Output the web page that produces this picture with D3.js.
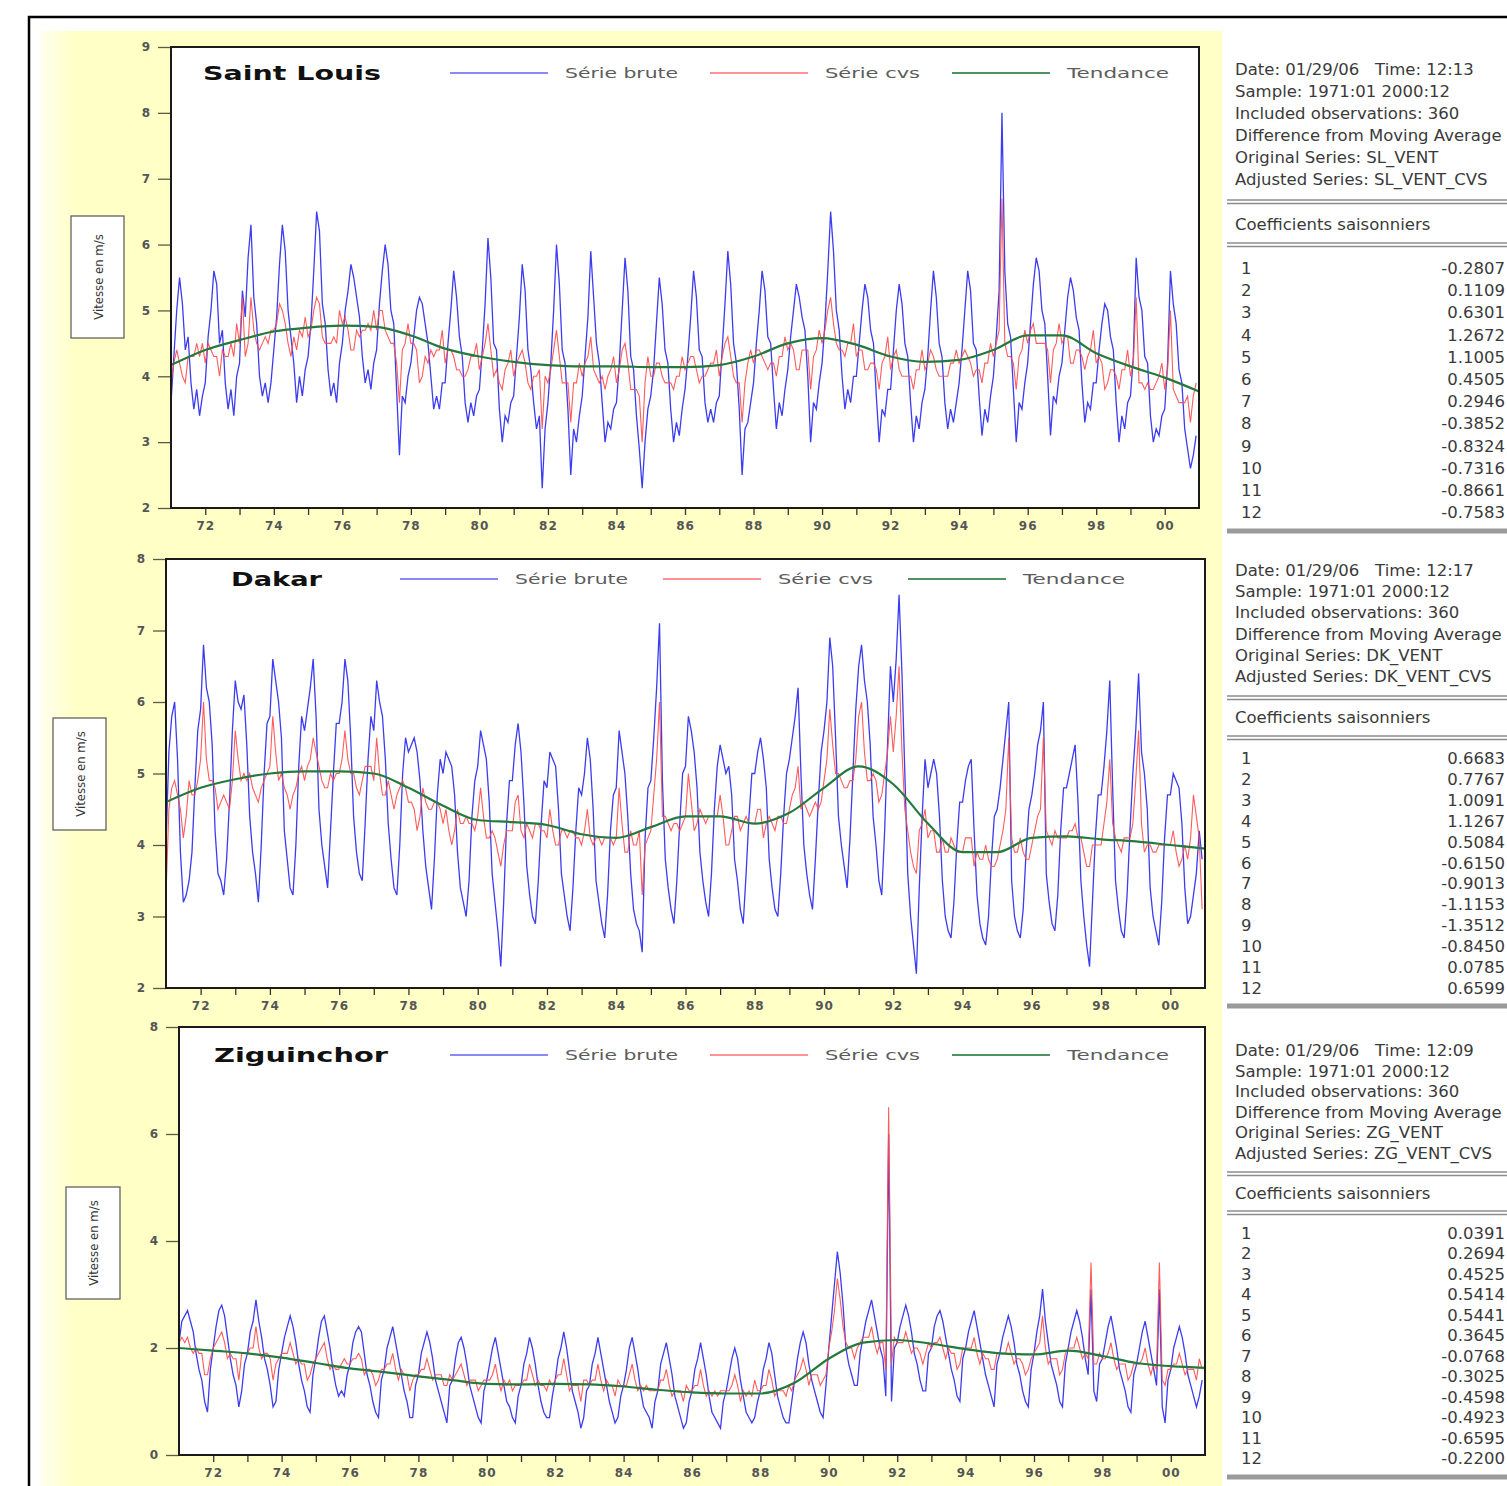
<!DOCTYPE html>
<html>
<head>
<meta charset="utf-8">
<title>Vitesse du vent - séries brutes, cvs et tendance</title>
<script src="https://d3js.org/d3.v7.min.js"></script>
<style>
  body { margin: 0; background: #fff; }
  svg text { font-family: "DejaVu Sans", sans-serif; }
</style>
</head>
<body>
<div id="chart"></div>
<script>
// ---- data: monthly wind speed (m/s), 1971:01 - 2000:12 ----
var startYear = 1971;
var xTickYears = [1972, 1974, 1976, 1978, 1980, 1982, 1984, 1986, 1988, 1990, 1992, 1994, 1996, 1998, 2000];
var xTickLabels = ["72", "74", "76", "78", "80", "82", "84", "86", "88", "90", "92", "94", "96", "98", "00"];
var legendLabels = ["Série brute", "Série cvs", "Tendance"];
var trendYears = d3.range(1971, 2002);

var slBrute = [
  3.6,4.3,5.0,5.5,5.1,4.4,4.6,3.9,3.5,3.8,3.4,3.7, 3.9,4.6,5.0,5.6,5.4,4.5,4.7,3.9,3.5,3.8,3.4,4.0,
  4.2,5.3,4.9,5.8,6.3,5.2,4.8,4.0,3.7,3.9,3.6,3.9, 4.4,4.9,5.7,6.3,5.9,5.0,4.6,4.2,3.6,4.0,3.7,4.1,
  4.3,4.8,5.6,6.5,6.2,5.1,4.8,4.1,3.7,3.9,3.6,4.2, 4.5,5.0,5.3,5.7,5.5,5.2,4.9,4.3,3.9,4.1,3.8,4.2,
  4.4,5.1,5.6,6.0,5.7,5.0,4.8,3.8,2.8,3.7,3.6,4.0, 4.2,4.6,5.0,5.2,5.1,4.8,4.5,4.0,3.5,3.7,3.5,3.9,
  3.9,4.5,5.0,5.6,5.2,4.6,4.3,3.6,3.3,3.6,3.4,3.7, 3.8,4.4,5.1,6.1,5.5,4.5,4.4,3.5,3.0,3.4,3.3,3.6,
  3.7,4.3,4.9,5.7,5.3,4.4,4.1,3.6,3.2,3.4,2.3,3.2, 3.6,4.2,5.0,6.0,5.4,4.4,4.2,3.5,2.5,3.2,3.0,3.4,
  3.7,4.3,4.9,5.9,5.2,4.5,4.2,3.6,3.0,3.3,3.2,3.5, 3.6,4.2,5.0,5.8,5.3,4.3,4.1,3.4,2.9,2.3,3.0,3.5,
  3.7,4.1,4.8,5.5,5.1,4.4,4.2,3.5,3.0,3.3,3.1,3.5, 3.8,4.3,4.9,5.6,5.2,4.4,4.3,3.6,3.3,3.5,3.3,3.6,
  3.7,4.4,5.1,5.9,5.4,4.5,4.2,3.5,2.5,3.2,3.3,3.6, 3.9,4.5,5.0,5.6,5.3,4.6,4.5,3.8,3.2,3.6,3.4,3.8,
  4.1,4.6,5.0,5.4,5.2,4.9,4.7,4.0,3.0,3.6,3.5,3.9, 4.2,4.8,5.6,6.5,5.9,5.0,4.7,4.0,3.5,3.8,3.6,4.0,
  4.0,4.5,5.0,5.4,5.2,4.7,4.5,3.7,3.0,3.5,3.4,3.8, 3.8,4.4,5.0,5.4,5.1,4.5,4.3,3.6,3.0,3.4,3.2,3.6,
  3.8,4.3,5.0,5.6,5.2,4.5,4.3,3.6,3.2,3.5,3.3,3.6, 3.9,4.4,5.0,5.6,5.3,4.5,4.4,3.7,3.1,3.5,3.3,3.7,
  4.0,4.6,5.3,8.0,5.6,4.8,4.6,3.8,3.0,3.6,3.5,3.9, 4.2,4.8,5.4,5.8,5.6,5.0,4.8,4.0,3.1,3.7,3.6,4.0,
  4.2,4.7,5.2,5.5,5.3,4.9,4.7,3.9,3.3,3.6,3.5,3.9, 3.9,4.4,4.8,5.1,5.0,4.6,4.4,3.6,3.0,3.4,3.2,3.6,
  3.7,4.3,5.8,5.2,5.0,4.3,4.2,3.4,3.0,3.2,3.1,3.4, 3.5,4.2,5.6,5.1,4.8,4.1,3.9,3.2,2.9,2.6,2.8,3.1
];
var slCvs = [
  3.9,4.2,4.4,4.2,4.0,3.9,4.3,4.3,4.3,4.5,4.3,4.5, 4.2,4.5,4.4,4.3,4.3,4.0,4.4,4.3,4.3,4.5,4.3,4.8,
  4.5,5.2,4.3,4.5,5.2,4.7,4.5,4.4,4.5,4.6,4.5,4.7, 4.7,4.8,5.1,5.0,4.8,4.5,4.3,4.6,4.4,4.7,4.6,4.9,
  4.6,4.7,5.0,5.2,5.1,4.6,4.5,4.5,4.5,4.6,4.5,5.0, 4.8,4.9,4.7,4.4,4.4,4.7,4.6,4.7,4.7,4.8,4.7,5.0,
  4.7,5.0,5.0,4.7,4.6,4.5,4.5,4.2,3.6,4.4,4.5,4.8, 4.5,4.5,4.4,3.9,4.0,4.3,4.2,4.4,4.3,4.4,4.4,4.7,
  4.2,4.4,4.4,4.3,4.1,4.1,4.0,4.0,4.1,4.3,4.3,4.5, 4.1,4.3,4.5,4.8,4.4,4.0,4.1,3.9,3.8,4.1,4.2,4.4,
  4.0,4.2,4.3,4.4,4.2,3.9,3.8,4.0,4.0,4.1,3.2,4.0, 3.9,4.1,4.4,4.7,4.3,3.9,3.9,3.9,3.3,3.9,3.9,4.2,
  4.0,4.2,4.3,4.6,4.1,4.0,3.9,4.0,3.8,4.0,4.1,4.3, 3.9,4.1,4.4,4.5,4.2,3.8,3.8,3.8,3.7,3.0,3.9,4.3,
  4.0,4.0,4.2,4.2,4.0,3.9,3.9,3.9,3.8,4.0,4.0,4.3, 4.1,4.2,4.3,4.3,4.1,3.9,4.0,4.0,4.1,4.2,4.2,4.4,
  4.0,4.3,4.5,4.6,4.3,4.0,3.9,3.9,3.3,3.9,4.2,4.4, 4.2,4.4,4.4,4.3,4.2,4.1,4.2,4.2,4.0,4.3,4.3,4.6,
  4.4,4.5,4.4,4.1,4.1,4.4,4.4,4.4,3.8,4.3,4.4,4.7, 4.5,4.7,5.0,5.2,4.8,4.5,4.4,4.4,4.3,4.5,4.5,4.8,
  4.3,4.4,4.4,4.1,4.1,4.2,4.2,4.1,3.8,4.2,4.3,4.6, 4.1,4.3,4.4,4.1,4.0,4.0,4.0,4.0,3.8,4.1,4.1,4.4,
  4.1,4.2,4.4,4.3,4.1,4.0,4.0,4.0,4.0,4.2,4.2,4.4, 4.2,4.3,4.4,4.3,4.2,4.0,4.1,4.1,3.9,4.2,4.2,4.5,
  4.3,4.5,4.7,6.7,4.5,4.3,4.3,4.2,3.8,4.3,4.4,4.7, 4.5,4.7,4.8,4.5,4.5,4.5,4.5,4.4,3.9,4.4,4.5,4.8,
  4.5,4.6,4.6,4.2,4.2,4.4,4.4,4.3,4.1,4.3,4.4,4.7, 4.2,4.3,4.2,3.8,3.9,4.1,4.1,4.0,3.8,4.1,4.1,4.4,
  4.0,4.2,5.2,3.9,3.9,3.8,3.9,3.8,3.8,3.9,4.0,4.2, 3.8,4.1,5.0,3.8,3.7,3.6,3.6,3.6,3.7,3.3,3.7,3.9
];
var slTrend = [4.17,4.40,4.55,4.68,4.74,4.77,4.75,4.62,4.42,4.30,4.22,4.17,4.15,4.15,4.14,4.14,
  4.17,4.30,4.50,4.58,4.48,4.30,4.22,4.25,4.40,4.62,4.62,4.35,4.15,3.98,3.77];

var dkBrute = [
  4.0,5.3,5.8,6.0,5.2,3.9,3.2,3.3,3.5,3.9,4.8,5.6, 5.9,6.8,6.2,6.0,5.4,4.2,3.6,3.5,3.3,3.8,4.6,5.6,
  6.3,6.0,5.9,6.1,5.4,4.4,3.9,3.6,3.2,4.0,5.0,5.7, 5.8,6.6,6.3,6.0,5.5,4.2,3.8,3.4,3.3,4.0,5.1,5.8,
  5.6,5.9,6.2,6.6,5.8,4.5,4.0,3.7,3.4,4.2,5.0,5.7, 5.7,6.0,6.6,6.3,5.5,4.4,3.9,3.6,3.5,4.3,5.2,5.8,
  5.6,6.3,6.0,5.8,5.2,4.3,3.8,3.4,3.3,4.0,5.0,5.5, 5.3,5.4,5.5,5.3,4.9,4.2,3.7,3.4,3.1,3.8,4.7,5.2,
  5.0,5.3,5.2,5.1,4.7,3.9,3.4,3.2,3.0,3.5,4.4,4.9, 5.1,5.6,5.4,5.2,4.6,3.6,3.2,2.8,2.3,3.2,4.3,4.9,
  4.9,5.4,5.7,5.3,4.6,3.7,3.3,3.0,2.9,3.5,4.3,4.9, 4.8,5.3,5.2,5.1,4.5,3.6,3.3,3.0,2.8,3.4,4.2,4.8,
  4.7,5.0,5.5,5.2,4.5,3.5,3.2,2.9,2.7,3.3,4.2,4.7, 4.8,5.6,5.3,5.0,4.4,3.6,3.1,2.9,2.8,2.5,4.1,4.8,
  4.9,5.5,6.2,7.1,4.9,3.8,3.4,3.1,2.9,3.5,4.3,5.0, 5.1,5.8,5.6,5.3,4.8,3.9,3.5,3.2,3.0,3.6,4.5,5.1,
  5.4,5.2,5.0,5.1,4.7,3.8,3.5,3.1,2.9,3.6,4.4,5.0, 5.0,5.3,5.5,5.2,4.8,3.8,3.4,3.1,3.0,3.6,4.4,5.0,
  5.2,5.5,5.8,6.2,5.0,4.0,3.6,3.3,3.1,3.8,4.6,5.3, 5.6,6.0,6.9,6.5,5.5,4.4,4.0,3.7,3.4,4.1,5.0,5.9,
  6.5,6.8,6.3,6.0,5.4,4.4,4.0,3.5,3.3,4.2,5.4,6.5, 6.0,6.6,7.5,6.4,5.0,3.6,3.0,2.6,2.2,3.4,4.4,5.2,
  4.8,5.0,5.2,5.0,4.4,3.5,3.0,2.8,2.7,3.2,4.0,4.6, 4.6,4.9,5.1,5.2,4.2,3.3,2.9,2.7,2.6,3.0,3.8,4.4,
  4.5,4.8,5.2,5.6,6.0,3.5,3.0,2.8,2.7,3.1,3.9,4.5, 4.7,5.0,5.4,5.6,6.0,3.6,3.2,2.9,2.8,3.3,4.2,4.8,
  4.8,5.0,5.2,5.4,4.6,3.5,3.0,2.6,2.3,3.2,4.1,4.7, 4.7,5.1,5.6,6.3,4.8,3.5,3.1,2.8,2.7,3.3,4.2,5.0,
  5.6,6.4,5.3,5.0,4.5,3.4,3.0,2.8,2.6,3.2,4.1,4.7, 4.7,5.0,4.9,4.8,4.3,3.4,2.9,3.0,3.3,3.6,4.2,3.8
];
var dkCvs = [
  3.3,4.5,4.8,4.9,4.7,4.5,4.1,4.4,4.9,4.7,4.7,4.9, 5.2,6.0,5.2,4.9,4.9,4.8,4.5,4.6,4.7,4.6,4.5,4.9,
  5.6,5.2,4.9,5.0,4.9,5.0,4.8,4.7,4.6,4.8,4.9,5.0, 5.1,5.8,5.3,4.9,5.0,4.8,4.7,4.5,4.7,4.8,5.0,5.1,
  4.9,5.1,5.2,5.5,5.3,5.1,4.9,4.8,4.8,5.0,4.9,5.0, 5.0,5.2,5.6,5.2,5.0,5.0,4.8,4.7,4.9,5.1,5.1,5.1,
  4.9,5.5,5.0,4.7,4.7,4.9,4.7,4.5,4.7,4.8,4.9,4.8, 4.6,4.6,4.5,4.2,4.4,4.8,4.6,4.5,4.5,4.6,4.6,4.5,
  4.3,4.5,4.2,4.0,4.2,4.5,4.3,4.3,4.4,4.3,4.3,4.2, 4.4,4.8,4.4,4.1,4.1,4.2,4.1,3.9,3.7,4.0,4.2,4.2,
  4.2,4.6,4.7,4.2,4.1,4.3,4.2,4.1,4.3,4.3,4.2,4.2, 4.1,4.5,4.2,4.0,4.0,4.2,4.2,4.1,4.2,4.2,4.1,4.1,
  4.0,4.2,4.5,4.1,4.0,4.1,4.1,4.0,4.1,4.1,4.1,4.0, 4.1,4.8,4.3,3.9,3.9,4.2,4.0,4.0,4.2,3.3,4.0,4.1,
  4.2,4.7,5.2,6.0,4.4,4.4,4.3,4.2,4.3,4.3,4.2,4.3, 4.4,5.0,4.6,4.2,4.3,4.5,4.4,4.3,4.4,4.4,4.4,4.4,
  4.7,4.4,4.0,4.0,4.2,4.4,4.4,4.2,4.3,4.4,4.3,4.3, 4.3,4.5,4.5,4.1,4.3,4.4,4.3,4.2,4.4,4.4,4.3,4.3,
  4.5,4.7,4.8,5.1,4.5,4.6,4.5,4.4,4.5,4.6,4.5,4.6, 4.9,5.2,5.9,5.4,5.0,5.0,4.9,4.8,4.8,4.9,4.9,5.2,
  5.8,6.0,5.3,4.9,4.9,5.0,4.9,4.6,4.7,5.0,5.3,5.8, 5.3,5.8,6.5,5.3,4.5,4.2,3.9,3.7,3.6,4.2,4.3,4.5,
  4.1,4.2,4.2,3.9,3.9,4.1,3.9,3.9,4.1,4.0,3.9,3.9, 3.9,4.1,4.1,4.1,3.7,3.9,3.8,3.8,4.0,3.8,3.7,3.7,
  3.8,4.0,4.2,4.5,5.5,4.1,3.9,3.9,4.1,3.9,3.8,3.8, 4.0,4.2,4.4,4.5,5.5,4.2,4.1,4.0,4.2,4.1,4.1,4.1,
  4.1,4.2,4.2,4.3,4.1,4.1,3.9,3.7,3.7,4.0,4.0,4.0, 4.0,4.3,4.6,5.2,4.3,4.1,4.0,3.9,4.1,4.1,4.1,4.3,
  4.9,5.6,4.3,3.9,4.0,4.0,3.9,3.9,4.0,4.0,4.0,4.0, 4.0,4.2,3.9,3.7,3.8,4.0,3.8,4.1,4.7,4.4,4.1,3.1
];
var dkTrend = [4.60,4.80,4.92,5.00,5.03,5.03,5.00,4.80,4.55,4.35,4.32,4.28,4.15,4.10,4.25,4.40,
  4.40,4.30,4.45,4.80,5.10,4.85,4.30,3.90,3.90,4.10,4.12,4.08,4.05,4.00,3.95];

var zgBrute = [
  2.1,2.5,2.6,2.7,2.5,2.3,1.9,1.6,1.4,1.0,0.8,1.6, 2.0,2.4,2.7,2.8,2.6,2.2,1.8,1.5,1.3,0.9,1.2,1.7,
  1.9,2.3,2.5,2.9,2.5,2.2,1.8,1.6,1.3,0.9,1.0,1.6, 1.9,2.2,2.4,2.6,2.4,2.1,1.7,1.4,1.2,0.9,0.8,1.5,
  1.8,2.2,2.5,2.6,2.3,2.0,1.6,1.3,1.1,1.2,1.1,1.5, 1.7,2.1,2.3,2.4,2.3,1.9,1.5,1.3,1.0,0.8,0.7,1.4,
  1.6,2.0,2.2,2.4,2.1,1.8,1.5,1.2,1.0,0.7,0.7,1.3, 1.5,1.9,2.1,2.3,2.1,1.8,1.4,1.2,1.0,0.8,0.6,1.3,
  1.4,1.8,2.1,2.2,2.0,1.7,1.3,1.1,0.9,0.7,0.6,1.2, 1.4,1.7,2.0,2.2,1.9,1.6,1.3,1.0,0.9,0.7,0.6,1.1,
  1.3,1.7,1.9,2.2,2.0,1.7,1.3,1.0,0.8,0.7,0.7,1.1, 1.4,1.8,2.0,2.3,2.0,1.6,1.2,1.0,0.8,0.5,0.7,1.2,
  1.3,1.7,1.9,2.2,1.9,1.6,1.3,1.0,0.8,0.6,0.7,1.1, 1.3,1.6,2.0,2.2,1.9,1.6,1.2,0.9,0.8,0.7,0.5,1.0,
  1.2,1.7,1.9,2.1,1.8,1.5,1.1,0.9,0.7,0.5,0.6,1.0, 1.2,1.6,1.8,2.1,1.8,1.5,1.1,0.8,0.7,0.6,0.5,1.0,
  1.2,1.5,1.8,2.0,1.8,1.4,1.1,0.8,0.7,0.6,0.7,1.0, 1.2,1.6,1.8,2.1,1.9,1.5,1.1,0.9,0.7,0.6,0.6,1.0,
  1.4,1.8,2.1,2.3,2.1,1.7,1.4,1.2,1.0,0.8,0.7,1.3, 2.0,2.6,3.2,3.8,3.4,2.8,2.0,1.7,1.5,1.3,1.3,1.9,
  2.2,2.5,2.7,2.9,2.6,2.3,2.0,1.8,1.1,6.0,1.0,2.0, 2.1,2.4,2.6,2.8,2.6,2.3,1.9,1.7,1.4,1.2,1.2,1.9,
  2.0,2.4,2.6,2.7,2.5,2.2,1.9,1.6,1.4,1.1,1.0,1.8, 2.0,2.3,2.5,2.7,2.4,2.1,1.8,1.5,1.3,1.1,0.9,1.7,
  1.9,2.2,2.4,2.6,2.4,2.1,1.7,1.5,1.2,1.0,0.9,1.6, 1.9,2.3,2.6,3.1,2.5,2.1,1.7,1.5,1.3,1.0,0.9,1.7,
  2.0,2.3,2.5,2.7,2.5,2.2,1.8,1.5,3.1,1.2,1.0,1.7, 1.8,2.1,2.4,2.6,2.3,2.0,1.6,1.4,1.2,0.9,0.8,1.5,
  1.7,2.0,2.3,2.5,2.2,1.9,1.6,1.3,3.1,0.9,0.6,1.4, 1.6,2.0,2.2,2.4,2.2,1.9,1.5,1.3,1.1,0.9,1.1,1.4
];
var zgCvs = [
  2.1,2.2,2.1,2.2,2.0,1.9,2.0,1.9,1.9,1.5,1.5,1.8, 2.0,2.1,2.2,2.3,2.1,1.8,1.9,1.8,1.8,1.4,1.9,1.9,
  1.9,2.0,2.0,2.4,2.0,1.8,1.9,1.9,1.8,1.4,1.7,1.8, 1.9,1.9,1.9,2.1,1.9,1.7,1.8,1.7,1.7,1.4,1.5,1.7,
  1.8,1.9,2.0,2.1,1.8,1.6,1.7,1.6,1.6,1.7,1.8,1.7, 1.7,1.8,1.8,1.9,1.8,1.5,1.6,1.6,1.5,1.3,1.4,1.6,
  1.6,1.7,1.7,1.9,1.6,1.4,1.6,1.5,1.5,1.2,1.4,1.5, 1.5,1.6,1.6,1.8,1.6,1.4,1.5,1.5,1.5,1.3,1.3,1.5,
  1.4,1.5,1.6,1.7,1.5,1.3,1.4,1.4,1.4,1.2,1.3,1.4, 1.4,1.4,1.5,1.7,1.4,1.2,1.4,1.3,1.4,1.2,1.3,1.3,
  1.3,1.4,1.4,1.7,1.5,1.3,1.4,1.3,1.3,1.2,1.4,1.3, 1.4,1.5,1.5,1.8,1.5,1.2,1.3,1.3,1.3,1.0,1.4,1.4,
  1.3,1.4,1.4,1.7,1.4,1.2,1.4,1.3,1.3,1.1,1.4,1.3, 1.3,1.3,1.5,1.7,1.4,1.2,1.3,1.2,1.3,1.2,1.2,1.2,
  1.2,1.4,1.4,1.6,1.3,1.1,1.2,1.2,1.2,1.0,1.3,1.2, 1.2,1.3,1.3,1.6,1.3,1.1,1.2,1.1,1.2,1.1,1.2,1.2,
  1.2,1.2,1.3,1.5,1.3,1.0,1.2,1.1,1.2,1.1,1.4,1.2, 1.2,1.3,1.3,1.6,1.4,1.1,1.2,1.2,1.2,1.1,1.3,1.2,
  1.4,1.5,1.6,1.8,1.6,1.3,1.5,1.5,1.5,1.3,1.4,1.5, 2.0,2.3,2.7,3.3,2.9,2.4,2.1,2.0,2.0,1.8,2.0,2.1,
  2.2,2.2,2.2,2.4,2.1,1.9,2.1,2.1,1.6,6.5,1.7,2.2, 2.1,2.1,2.1,2.3,2.1,1.9,2.0,2.0,1.9,1.7,1.9,2.1,
  2.0,2.1,2.1,2.2,2.0,1.8,2.0,1.9,1.9,1.6,1.7,2.0, 2.0,2.0,2.0,2.2,1.9,1.7,1.9,1.8,1.8,1.6,1.6,1.9,
  1.9,1.9,1.9,2.1,1.9,1.7,1.8,1.8,1.7,1.5,1.6,1.8, 1.9,2.0,2.1,2.6,2.0,1.7,1.8,1.8,1.8,1.5,1.6,1.9,
  2.0,2.0,2.0,2.2,2.0,1.8,1.9,1.8,3.6,1.7,1.7,1.9, 1.8,1.8,1.9,2.1,1.8,1.6,1.7,1.7,1.7,1.4,1.5,1.7,
  1.7,1.7,1.8,2.0,1.7,1.5,1.7,1.6,3.6,1.4,1.3,1.6, 1.6,1.7,1.7,1.9,1.7,1.5,1.6,1.6,1.6,1.4,1.8,1.6
];
var zgTrend = [2.00,1.95,1.90,1.82,1.72,1.62,1.55,1.47,1.40,1.33,1.32,1.33,1.32,1.28,1.22,1.17,
  1.15,1.15,1.35,1.80,2.10,2.15,2.08,1.98,1.90,1.88,1.95,1.85,1.72,1.66,1.63];

// seasonal coefficients (table at right)
var slCoef = ["-0.2807", "0.1109", "0.6301", "1.2672", "1.1005", "0.4505", "0.2946", "-0.3852", "-0.8324", "-0.7316", "-0.8661", "-0.7583"];
var dkCoef = ["0.6683", "0.7767", "1.0091", "1.1267", "0.5084", "-0.6150", "-0.9013", "-1.1153", "-1.3512", "-0.8450", "0.0785", "0.6599"];
var zgCoef = ["0.0391", "0.2694", "0.4525", "0.5414", "0.5441", "0.3645", "-0.0768", "-0.3025", "-0.4598", "-0.4923", "-0.6595", "-0.2200"];
var slInfo = ["Date: 01/29/06   Time: 12:13", "Sample: 1971:01 2000:12", "Included observations: 360",
  "Difference from Moving Average", "Original Series: SL_VENT", "Adjusted Series: SL_VENT_CVS"];
var dkInfo = ["Date: 01/29/06   Time: 12:17", "Sample: 1971:01 2000:12", "Included observations: 360",
  "Difference from Moving Average", "Original Series: DK_VENT", "Adjusted Series: DK_VENT_CVS"];
var zgInfo = ["Date: 01/29/06   Time: 12:09", "Sample: 1971:01 2000:12", "Included observations: 360",
  "Difference from Moving Average", "Original Series: ZG_VENT", "Adjusted Series: ZG_VENT_CVS"];

// ---- layout ----
var panels = [
  {name: "Saint Louis", brute: slBrute, cvs: slCvs, trend: slTrend, coef: slCoef, info: slInfo,
   left: 171, right: 1199, top: 47, bottom: 508, yDomain: [2, 9], yTicks: [2, 3, 4, 5, 6, 7, 8, 9],
   titleX: 203, titleLen: 178, legX: [450, 710, 952], legY: 73,
   box: [71, 216, 53, 122],
   tab: {info0: 69, infoDy: 22, rule1: 200, coefY: 224, rule2: 243, row0: 268, rowDy: 22.2, band: 531}},
  {name: "Dakar", brute: dkBrute, cvs: dkCvs, trend: dkTrend, coef: dkCoef, info: dkInfo,
   left: 166, right: 1205, top: 559, bottom: 988, yDomain: [2, 8], yTicks: [2, 3, 4, 5, 6, 7, 8],
   titleX: 231, titleLen: 91, legX: [400, 663, 908], legY: 579,
   box: [53, 718, 53, 112],
   tab: {info0: 570, infoDy: 21.2, rule1: 696, coefY: 717, rule2: 736, row0: 758, rowDy: 20.9, band: 1006}},
  {name: "Ziguinchor", brute: zgBrute, cvs: zgCvs, trend: zgTrend, coef: zgCoef, info: zgInfo,
   left: 179, right: 1205, top: 1027, bottom: 1455, yDomain: [0, 8], yTicks: [0, 2, 4, 6, 8],
   titleX: 214, titleLen: 174, legX: [450, 710, 952], legY: 1055,
   box: [66, 1187, 54, 112],
   tab: {info0: 1050, infoDy: 20.6, rule1: 1172, coefY: 1193, rule2: 1211, row0: 1233, rowDy: 20.45, band: 1477}}
];
var colors = ["#3c3cf0", "#ff4a4a", "#237a3c"];
var widths = [1.3, 1.1, 2.2];
var legLens = [113, 95, 102];

var svg = d3.select("#chart").append("svg")
  .attr("width", 1507)
  .attr("height", 1486);

// pale yellow background, a little lighter at its left edge
var grad = svg.append("defs").append("linearGradient").attr("id", "fade");
grad.append("stop").attr("offset", "0").attr("stop-color", "#fffff0");
grad.append("stop").attr("offset", "0.03").attr("stop-color", "#ffffc6");
grad.append("stop").attr("offset", "1").attr("stop-color", "#ffffc6");
svg.append("rect")
  .attr("x", 40).attr("y", 31).attr("width", 1182).attr("height", 1470)
  .attr("fill", "url(#fade)");
svg.append("rect")
  .attr("x", 29).attr("y", 17).attr("width", 1520).attr("height", 1500)
  .attr("fill", "none").attr("stroke", "#000").attr("stroke-width", 2.5);

panels.forEach(function(p, k) {
  var x = d3.scaleLinear().domain([startYear, startYear + 30]).range([p.left, p.right]);
  var y = d3.scaleLinear().domain(p.yDomain).range([p.bottom, p.top]);

  svg.append("clipPath").attr("id", "clip" + k)
    .append("rect").attr("x", p.left).attr("y", p.top)
    .attr("width", p.right - p.left).attr("height", p.bottom - p.top);

  svg.append("rect")
    .attr("x", p.left).attr("y", p.top)
    .attr("width", p.right - p.left).attr("height", p.bottom - p.top)
    .attr("fill", "#fff");

  // y axis
  var ya = svg.append("g")
    .attr("transform", "translate(" + p.left + ",0)")
    .call(d3.axisLeft(y).tickValues(p.yTicks).tickSize(13).tickPadding(8).tickFormat(d3.format("d")));
  ya.select(".domain").remove();
  ya.selectAll("line").attr("stroke", "#5a5a46").attr("stroke-width", 1.3);
  ya.selectAll("text").attr("fill", "#555").style("font-size", "12px").style("font-weight", "bold");

  // x axis: a tick every year, label every second year
  var xa = svg.append("g")
    .attr("transform", "translate(0," + p.bottom + ")")
    .call(d3.axisBottom(x).tickValues(d3.range(1972, 2001)).tickSize(7).tickPadding(6)
      .tickFormat(function(d) { var i = xTickYears.indexOf(d); return i < 0 ? "" : xTickLabels[i]; }));
  xa.select(".domain").remove();
  xa.selectAll("line").attr("stroke", "#333").attr("stroke-width", 1.3);
  xa.selectAll("text").attr("fill", "#555").style("font-size", "12px").style("font-weight", "bold")
    .attr("letter-spacing", "1px");

  // series
  var monthly = d3.line()
    .x(function(d, i) { return x(startYear + i / 12); })
    .y(function(d) { return y(d); });
  var smooth = d3.line()
    .x(function(d, i) { return x(trendYears[i]); })
    .y(function(d) { return y(d); })
    .curve(d3.curveMonotoneX);
  var g = svg.append("g").attr("clip-path", "url(#clip" + k + ")");
  g.append("path").datum(p.brute).attr("d", monthly)
    .attr("fill", "none").attr("stroke", colors[0]).attr("stroke-width", widths[0]);
  g.append("path").datum(p.cvs).attr("d", monthly)
    .attr("fill", "none").attr("stroke", colors[1]).attr("stroke-width", widths[1]).attr("opacity", 0.9);
  g.append("path").datum(p.trend).attr("d", smooth)
    .attr("fill", "none").attr("stroke", colors[2]).attr("stroke-width", widths[2]);

  // frame
  svg.append("rect")
    .attr("x", p.left).attr("y", p.top)
    .attr("width", p.right - p.left).attr("height", p.bottom - p.top)
    .attr("fill", "none").attr("stroke", "#1a1a1a").attr("stroke-width", 2);

  // title and legend
  svg.append("text")
    .attr("x", p.titleX).attr("y", p.legY + 7)
    .attr("textLength", p.titleLen).attr("lengthAdjust", "spacingAndGlyphs")
    .style("font-size", "20px").style("font-weight", "bold").attr("fill", "#111")
    .text(p.name);
  legendLabels.forEach(function(lab, j) {
    svg.append("line")
      .attr("x1", p.legX[j]).attr("x2", p.legX[j] + 98)
      .attr("y1", p.legY).attr("y2", p.legY)
      .attr("stroke", colors[j]).attr("stroke-width", j == 2 ? 2.2 : 1.3).attr("opacity", 0.8);
    svg.append("text")
      .attr("x", p.legX[j] + 115).attr("y", p.legY + 5)
      .attr("textLength", legLens[j]).attr("lengthAdjust", "spacingAndGlyphs")
      .style("font-size", "14px").attr("fill", "#5c5c5c")
      .text(lab);
  });

  // y label box
  svg.append("rect")
    .attr("x", p.box[0]).attr("y", p.box[1]).attr("width", p.box[2]).attr("height", p.box[3])
    .attr("fill", "#fff").attr("stroke", "#555").attr("stroke-width", 1.2);
  svg.append("text")
    .attr("transform", "translate(" + (p.box[0] + p.box[2] / 2 + 5) + "," + (p.box[1] + p.box[3] / 2) + ") rotate(-90)")
    .attr("text-anchor", "middle")
    .style("font-family", "'DejaVu Sans Condensed', sans-serif").style("font-size", "13px")
    .attr("fill", "#333")
    .text("Vitesse en m/s");

  // statistics table at right
  var t = p.tab;
  var tg = svg.append("g")
    .style("font-family", "'Liberation Sans', Arial, sans-serif").style("font-size", "16.5px")
    .attr("fill", "#3a3a3a");
  tg.selectAll(".info").data(p.info).enter().append("text")
    .attr("x", 1235).attr("y", function(d, i) { return t.info0 + i * t.infoDy + 6; })
    .style("white-space", "pre")
    .text(function(d) { return d; });
  [t.rule1, t.rule2].forEach(function(ry) {
    tg.append("line").attr("x1", 1227).attr("x2", 1507).attr("y1", ry).attr("y2", ry)
      .attr("stroke", "#8c8c8c").attr("stroke-width", 1.5);
    tg.append("line").attr("x1", 1227).attr("x2", 1507).attr("y1", ry + 3.5).attr("y2", ry + 3.5)
      .attr("stroke", "#8c8c8c").attr("stroke-width", 1.5);
  });
  tg.append("text").attr("x", 1235).attr("y", t.coefY + 6).text("Coefficients saisonniers");
  tg.selectAll(".num").data(p.coef).enter().append("text")
    .attr("x", 1241).attr("y", function(d, i) { return t.row0 + i * t.rowDy + 6; })
    .text(function(d, i) { return i + 1; });
  tg.selectAll(".val").data(p.coef).enter().append("text")
    .attr("x", 1505).attr("text-anchor", "end")
    .attr("y", function(d, i) { return t.row0 + i * t.rowDy + 6; })
    .text(function(d) { return d; });
  tg.append("rect").attr("x", 1227).attr("y", t.band - 2.5).attr("width", 290).attr("height", 5)
    .attr("fill", "#9a9a9a");
});
</script>
</body>
</html>
